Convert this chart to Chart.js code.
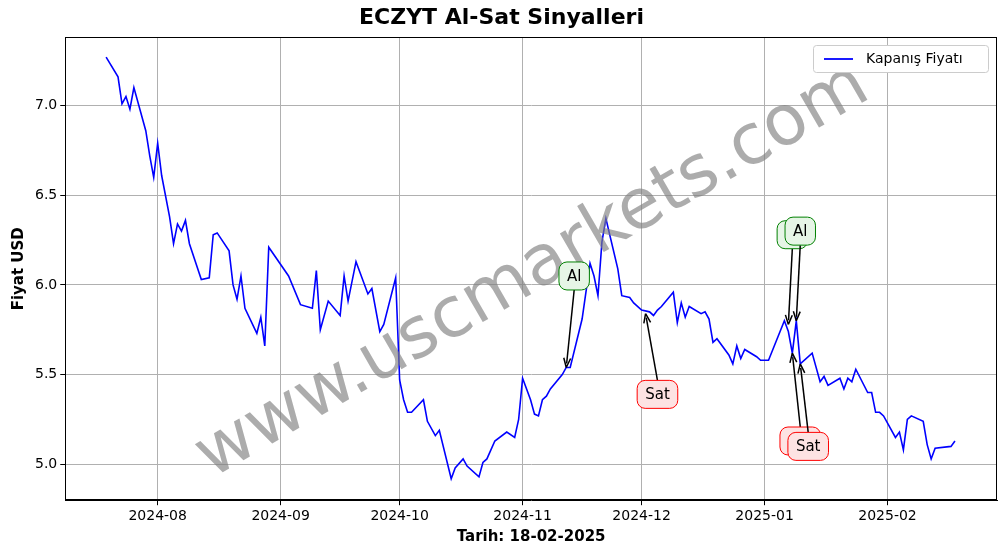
<!DOCTYPE html>
<html><head><meta charset="utf-8">
<script src="https://cdn.jsdelivr.net/npm/chart.js@4"></script>
<style>html,body{margin:0;padding:0;background:#fff}#w{width:1006px;height:554px}</style>
</head><body><div id="w"><canvas id="c"></canvas></div>
<script>
// days since 2024-08-01
const dayOffsets=[-13,-10,-9,-8,-7,-6,-3,-2,-1,0,1,3,4,5,6,7,8,11,13,14,15,18,19,20,21,22,25,26,27,28,33,36,39,40,41,43,46,47,48,50,53,54,56,57,60,61,62,63,64,67,68,70,71,74,75,77,78,81,82,83,85,88,90,91,92,94,95,96,97,98,99,102,103,104,107,109,110,111,112,113,116,117,119,120,122,124,125,126,127,130,131,132,133,134,137,138,139,140,141,144,145,146,147,148,151,152,154,158,159,160,161,162,165,167,168,169,172,173,174,175,176,179,180,181,182,183,186,187,188,189,190,193,194,195,196,200,201];
const closePrices=[7.27,7.16,7.01,7.05,6.98,7.10,6.86,6.72,6.60,6.79,6.61,6.38,6.23,6.34,6.30,6.36,6.23,6.03,6.04,6.28,6.29,6.19,6.00,5.92,6.05,5.87,5.73,5.82,5.66,6.21,6.05,5.89,5.87,6.08,5.75,5.91,5.83,6.05,5.91,6.13,5.95,5.98,5.74,5.78,6.04,5.47,5.36,5.29,5.29,5.36,5.24,5.16,5.19,4.92,4.98,5.03,4.99,4.93,5.01,5.03,5.13,5.18,5.15,5.25,5.48,5.36,5.28,5.27,5.36,5.38,5.42,5.50,5.54,5.54,5.81,6.12,6.05,5.94,6.24,6.37,6.09,5.94,5.93,5.90,5.86,5.85,5.83,5.86,5.88,5.96,5.79,5.90,5.82,5.88,5.84,5.85,5.81,5.68,5.70,5.61,5.56,5.66,5.59,5.64,5.60,5.58,5.58,5.80,5.74,5.62,5.80,5.56,5.62,5.46,5.49,5.44,5.48,5.42,5.48,5.46,5.53,5.40,5.40,5.29,5.29,5.27,5.15,5.18,5.08,5.25,5.27,5.24,5.11,5.03,5.09,5.10,5.13];
const tickDays=[0,31,61,92,122,153,184];
const tickLabels=['2024-08','2024-09','2024-10','2024-11','2024-12','2025-01','2025-02'];
// signals: day, price, label, text position (day, price)
const signalDays=[103,123,159,161,160,162];
const signalPrices=[5.54,5.84,5.78,5.80,5.62,5.56];
const signalLabels=['Al','Sat','Al','Al','Sat','Sat'];
const signalTextDays=[105,126,160,162,162,164];
const signalTextPrices=[6.05,5.39,6.28,6.30,5.13,5.10];

const annot={id:'annot',afterDatasetsDraw(ch){
  const c=ch.ctx,xs=ch.scales.x,ys=ch.scales.y,a=ch.chartArea;
  c.save();
  c.strokeStyle='#000';c.lineWidth=1;c.strokeRect(Math.round(a.left)+0.5,Math.round(a.top)+0.5,Math.round(a.right-a.left)-1,Math.round(a.bottom-a.top)-1);
  // watermark
  c.save();
  c.translate(533,272);c.rotate(-Math.atan2(390,675));
  c.font='70px "DejaVu Sans"';c.fillStyle='rgba(128,128,128,0.65)';c.textAlign='center';c.textBaseline='middle';
  c.fillText('www.uscmarkets.com',0,0);c.restore();
  for(let i=0;i<signalDays.length;i++){
    const px=xs.getPixelForValue(signalDays[i]),py=ys.getPixelForValue(signalPrices[i]);
    const tx=xs.getPixelForValue(signalTextDays[i]),ty=ys.getPixelForValue(signalTextPrices[i]);
    const buy=signalLabels[i]==='Al';
    c.font='15px "DejaVu Sans"';
    const w=c.measureText(signalLabels[i]).width+16,h=28;
    const sy=buy?ty+h/2:ty-h/2;
    c.strokeStyle='#000';c.fillStyle='#000';c.lineWidth=1.5;
    const ang=Math.atan2(py-sy,px-tx),L=10;
    c.beginPath();c.moveTo(tx,sy);c.lineTo(px-Math.cos(ang)*4,py-Math.sin(ang)*4);c.stroke();
    c.beginPath();c.moveTo(px,py);c.lineTo(px-L*Math.cos(ang-0.35),py-L*Math.sin(ang-0.35));
    c.moveTo(px,py);c.lineTo(px-L*Math.cos(ang+0.35),py-L*Math.sin(ang+0.35));c.stroke();
    c.beginPath();c.roundRect(tx-w/2,ty-h/2,w,h,8);
    c.fillStyle=buy?'#e6f5e6':'#fde3e3';c.fill();c.strokeStyle=buy?'#008000':'#ff0000';c.lineWidth=1;c.stroke();
    c.fillStyle='#000';c.textAlign='center';c.textBaseline='middle';c.fillText(signalLabels[i],tx,ty+1);
  }
  c.fillStyle='#fff';c.strokeStyle='#ccc';c.lineWidth=1;
  c.beginPath();c.roundRect(813.5,45.5,175,27,3);c.fill();c.stroke();
  c.strokeStyle='#0000ff';c.lineWidth=1.8;c.beginPath();c.moveTo(824,59);c.lineTo(853,59);c.stroke();
  c.fillStyle='#000';c.font='14px "DejaVu Sans"';c.textAlign='left';c.textBaseline='middle';c.fillText('Kapanış Fiyatı',866,59);
  c.restore();
}};

new Chart(document.getElementById('c'),{
  type:'line',
  data:{datasets:[{label:'Kapanış Fiyatı',data:dayOffsets.map((d,i)=>({x:d,y:closePrices[i]})),borderColor:'#0000ff',borderWidth:1.6,pointRadius:0,tension:0}]},
  options:{responsive:true,maintainAspectRatio:false,animation:false,devicePixelRatio:1,
    layout:{padding:{left:6,right:9,top:0,bottom:4}},
    plugins:{legend:{display:false},tooltip:{enabled:false},
      title:{display:true,text:'ECZYT Al-Sat Sinyalleri',color:'#000',font:{family:'DejaVu Sans',size:22,weight:'bold'},padding:{top:5,bottom:6}}},
    scales:{
      x:{type:'linear',min:-23.3,max:211.6,
        afterBuildTicks(s){s.ticks=tickDays.map(v=>({value:v}));},
        ticks:{callback:(v)=>tickLabels[tickDays.indexOf(v)],color:'#000',font:{family:'DejaVu Sans',size:14},maxRotation:0,autoSkip:false},
        grid:{color:'#b0b0b0',tickColor:'#000',tickLength:5},border:{color:'#000'},
        title:{display:true,text:'Tarih: 18-02-2025',color:'#000',font:{family:'DejaVu Sans',size:15,weight:'bold'},padding:{top:0}}},
      y:{min:4.8,max:7.38,
        afterBuildTicks(s){s.ticks=[5,5.5,6,6.5,7].map(v=>({value:v}));},
        ticks:{callback:v=>v.toFixed(1),color:'#000',font:{family:'DejaVu Sans',size:14}},
        grid:{color:'#b0b0b0',tickColor:'#000',tickLength:5},border:{color:'#000'},
        title:{display:true,text:'Fiyat USD',color:'#000',font:{family:'DejaVu Sans',size:15,weight:'bold'}}}
    }},
  plugins:[annot]
});
</script></body></html>
